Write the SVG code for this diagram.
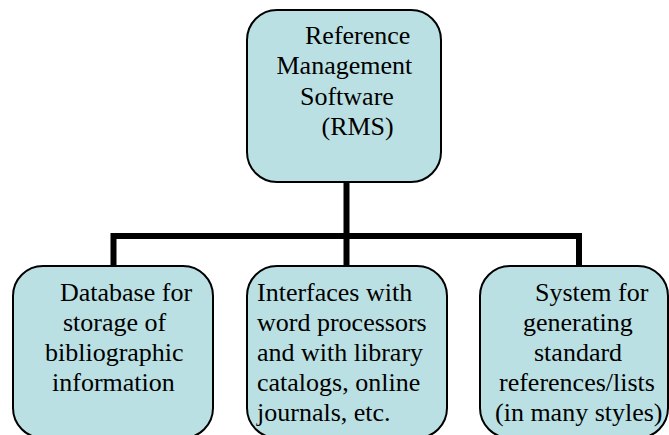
<svg xmlns="http://www.w3.org/2000/svg" width="669" height="435" viewBox="0 0 669 435">
<style>
.box{fill:#bbe0e3;stroke:#000;stroke-width:2}
.conn{fill:none;stroke:#000;stroke-width:6;stroke-linejoin:miter;stroke-linecap:butt}
text{font-family:"Liberation Serif","Times New Roman",serif;font-size:26px;fill:#000}
</style>
<rect width="669" height="435" fill="#fff"/>
<g id="connectors">
<path class="conn" d="M346.5 182 V266 M113.5 266 V236 H579 V266"/>
</g>
<g id="rms">
<rect class="box" x="247" y="10" width="194" height="172" rx="30" ry="30"/>
<text x="305" y="43.5">Reference</text>
<text x="276.5" y="74">Management</text>
<text x="300" y="104.5">Software</text>
<text x="321.5" y="135">(RMS)</text>
</g>
<g id="database">
<rect class="box" x="13" y="266" width="200" height="172" rx="30" ry="30"/>
<text x="60" y="301">Database for</text>
<text x="63" y="331">storage of</text>
<text x="45" y="361">bibliographic</text>
<text x="52" y="391">information</text>
</g>
<g id="interfaces">
<rect class="box" x="247" y="266" width="200" height="172" rx="30" ry="30"/>
<text x="257" y="301">Interfaces with</text>
<text x="257" y="331">word processors</text>
<text x="257" y="361">and with library</text>
<text x="257" y="391">catalogs, online</text>
<text x="257" y="421">journals, etc.</text>
</g>
<g id="system">
<rect class="box" x="480" y="266" width="188" height="172" rx="30" ry="30"/>
<text x="535" y="301">System for</text>
<text x="523" y="331">generating</text>
<text x="534" y="361">standard</text>
<text x="499" y="391">references/lists</text>
<text x="495" y="421">(in many styles)</text>
</g>
</svg>
